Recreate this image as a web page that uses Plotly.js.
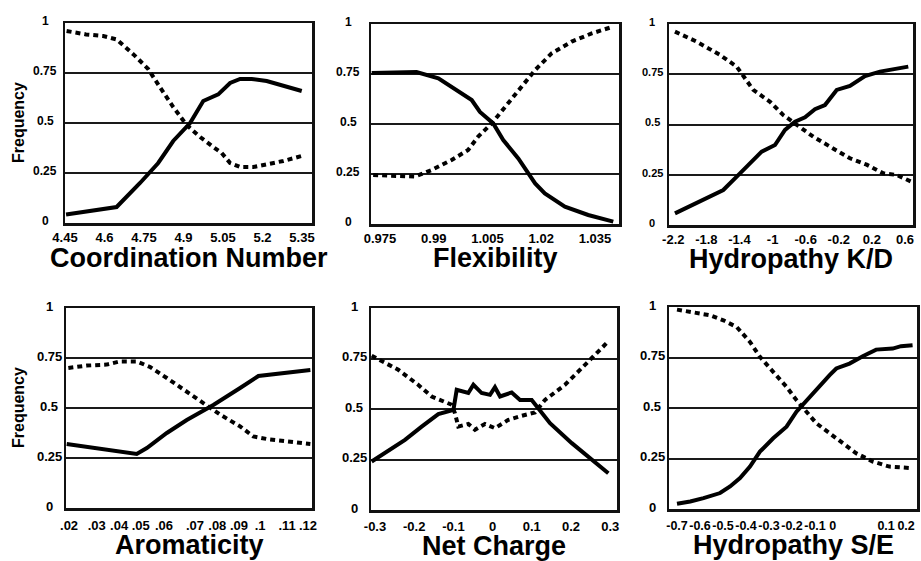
<!DOCTYPE html>
<html>
<head>
<meta charset="utf-8">
<script src="https://cdn.plot.ly/plotly-3.0.1.min.js"></script>
<style>html,body{margin:0;padding:0;background:#fff;}#chart{width:921px;height:561px;}</style>
</head>
<body>
<div id="chart"></div>
<script>
// ---------- DATA ----------
// Coordination Number
const cnSolidX = [4.454, 4.646, 4.735, 4.804, 4.861, 4.925, 4.975, 5.032, 5.077, 5.115, 5.159, 5.216, 5.349];
const cnSolidY = [0.043, 0.08, 0.20, 0.30, 0.41, 0.50, 0.61, 0.643, 0.70, 0.72, 0.72, 0.71, 0.66];
const cnDashX = [4.456, 4.53, 4.595, 4.646, 4.71, 4.766, 4.81, 4.861, 4.912, 4.963, 5.013, 5.045, 5.077, 5.115, 5.165, 5.216, 5.279, 5.349];
const cnDashY = [0.96, 0.943, 0.935, 0.918, 0.843, 0.77, 0.68, 0.58, 0.49, 0.43, 0.38, 0.35, 0.30, 0.28, 0.28, 0.293, 0.31, 0.335];
const cnTickVals = [4.45, 4.6, 4.75, 4.9, 5.05, 5.2, 5.35];
const cnTickText = ['4.45', '4.6', '4.75', '4.9', '5.05', '5.2', '5.35'];

// Flexibility
const flexSolidX = [0.9727, 0.9852, 0.9913, 0.995, 1.0006, 1.0029, 1.0066, 1.0094, 1.0136, 1.0183, 1.021, 1.0266, 1.0331, 1.0401];
const flexSolidY = [0.755, 0.76, 0.728, 0.687, 0.62, 0.56, 0.503, 0.42, 0.328, 0.203, 0.153, 0.087, 0.045, 0.012];
const flexDashX = [0.9731, 0.9848, 0.9894, 0.995, 0.9996, 1.0024, 1.0062, 1.0099, 1.0136, 1.0183, 1.0229, 1.0285, 1.0341, 1.0401];
const flexDashY = [0.245, 0.237, 0.27, 0.32, 0.37, 0.437, 0.503, 0.587, 0.67, 0.77, 0.853, 0.912, 0.953, 0.987];
const flexTickVals = [0.975, 0.99, 1.005, 1.02, 1.035];
const flexTickText = ['0.975', '0.99', '1.005', '1.02', '1.035'];

// Hydropathy K/D
const kdSolidX = [-2.18, -1.596, -1.394, -1.132, -0.971, -0.85, -0.729, -0.608, -0.488, -0.367, -0.225, -0.065, 0.117, 0.298, 0.64];
const kdSolidY = [0.058, 0.174, 0.257, 0.365, 0.398, 0.473, 0.514, 0.536, 0.576, 0.597, 0.672, 0.692, 0.741, 0.763, 0.788];
const kdDashX = [-2.18, -1.917, -1.636, -1.434, -1.233, -1.031, -0.871, -0.709, -0.508, -0.306, -0.065, 0.137, 0.338, 0.499, 0.68];
const kdDashY = [0.962, 0.912, 0.846, 0.788, 0.672, 0.613, 0.547, 0.498, 0.439, 0.39, 0.332, 0.3, 0.257, 0.249, 0.215];
const kdTickVals = [-2.2, -1.8, -1.4, -1, -0.6, -0.2, 0.2, 0.6];
const kdTickText = ['-2.2', '-1.8', '-1.4', '-1', '-0.6', '-0.2', '0.2', '0.6'];

// Aromaticity
const aroSolidX = [0.019, 0.0488, 0.0531, 0.0616, 0.0701, 0.0814, 0.0928, 0.1006, 0.1227];
const aroSolidY = [0.32, 0.27, 0.30, 0.375, 0.44, 0.515, 0.60, 0.66, 0.69];
const aroDashX = [0.0197, 0.0275, 0.036, 0.0417, 0.0488, 0.0545, 0.0616, 0.0701, 0.0786, 0.0843, 0.0928, 0.0984, 0.1041, 0.114, 0.1227];
const aroDashY = [0.70, 0.712, 0.717, 0.733, 0.733, 0.705, 0.65, 0.583, 0.517, 0.467, 0.408, 0.358, 0.345, 0.333, 0.32];
const aroTickVals = [0.02, 0.0318, 0.0413, 0.0505, 0.0604, 0.0736, 0.0831, 0.0923, 0.1013, 0.1128, 0.1217];
const aroTickText = ['.02', '.03', '.04', '.05', '.06', '.07', '.08', '.09', '.1', '.11', '.12'];

// Net Charge
const ncSolidX = [-0.3085, -0.2235, -0.181, -0.1385, -0.1, -0.0916, -0.062, -0.049, -0.028, -0.0066, 0.006, 0.019, 0.0487, 0.07, 0.0997, 0.1464, 0.202, 0.2952];
const ncSolidY = [0.24, 0.347, 0.413, 0.4745, 0.496, 0.595, 0.579, 0.62, 0.579, 0.57, 0.608, 0.562, 0.582, 0.545, 0.545, 0.43, 0.331, 0.182];
const ncDashX = [-0.3085, -0.2406, -0.19, -0.1554, -0.1043, -0.096, -0.0875, -0.062, -0.045, -0.0194, 0.006, 0.04, 0.0742, 0.108, 0.1337, 0.1847, 0.2442, 0.2952];
const ncDashY = [0.764, 0.694, 0.62, 0.562, 0.521, 0.479, 0.413, 0.426, 0.397, 0.426, 0.405, 0.446, 0.466, 0.483, 0.545, 0.62, 0.735, 0.835];
const ncTickVals = [-0.3, -0.2, -0.1, 0, 0.1, 0.2, 0.3];
const ncTickText = ['-0.3', '-0.2', '-0.1', '0', '0.1', '0.2', '0.3'];

// Hydropathy S/E
const seSolidX = [-0.7, -0.6424, -0.5848, -0.5126, -0.4693, -0.426, -0.3827, -0.3394, -0.2818, -0.2238, -0.1805, -0.123, -0.0797, -0.0364, -0.0074, 0.05, 0.1078, 0.1658, 0.2377, 0.274, 0.3243];
const seSolidY = [0.026, 0.0375, 0.054, 0.079, 0.1115, 0.153, 0.21, 0.284, 0.35, 0.4075, 0.4815, 0.5555, 0.613, 0.6626, 0.6956, 0.72, 0.756, 0.789, 0.794, 0.806, 0.811];
const seDashX = [-0.7, -0.628, -0.5558, -0.4983, -0.4403, -0.3827, -0.3394, -0.2818, -0.2238, -0.1805, -0.1372, -0.0939, -0.0364, 0.0212, 0.0792, 0.1511, 0.2234, 0.3243];
const seDashY = [0.987, 0.975, 0.959, 0.934, 0.901, 0.827, 0.753, 0.679, 0.605, 0.539, 0.4815, 0.424, 0.375, 0.326, 0.276, 0.235, 0.21, 0.202];
const seTickVals = [-0.7, -0.6, -0.5, -0.4, -0.3, -0.2, -0.1, -0.023, 0.209, 0.296];
const seTickText = ['-0.7', '-0.6', '-0.5', '-0.4', '-0.3', '-0.2', '-0.1', '0', '0.1', '0.2'];

// Shared y ticks
const yTickVals = [0, 0.25, 0.5, 0.75, 1];
const yTickText = ['0', '0.25', '0.5', '0.75', '1'];
const yTitle = 'Frequency';

// ---------- LAYOUT / STYLE ----------
const W = 921, H = 561;
const FONT = 'Liberation Sans, Arial, Helvetica, sans-serif';

const panels = [
  {sx: cnSolidX, sy: cnSolidY, dx: cnDashX, dy: cnDashY, tv: cnTickVals, tt: cnTickText, title: 'Coordination Number',
   box: [65, 312, 23, 223], range: [4.45, 5.388], yLabX: 45, yLabSize: 12, xLabSize: 13, tickLen: 1, titleShift: -35, freq: true},
  {sx: flexSolidX, sy: flexSolidY, dx: flexDashX, dy: flexDashY, tv: flexTickVals, tt: flexTickText, title: 'Flexibility',
   box: [371, 619, 24, 224], range: [0.9725, 1.0417], yLabX: 348, yLabSize: 12, xLabSize: 13, tickLen: 1, titleShift: -34, freq: false},
  {sx: kdSolidX, sy: kdSolidY, dx: kdDashX, dy: kdDashY, tv: kdTickVals, tt: kdTickText, title: 'Hydropathy K/D',
   box: [669, 913, 24, 225], range: [-2.252, 0.697], yLabX: 652, yLabSize: 11, xLabSize: 13, tickLen: 1, titleShift: -34, freq: false},
  {sx: aroSolidX, sy: aroSolidY, dx: aroDashX, dy: aroDashY, tv: aroTickVals, tt: aroTickText, title: 'Aromaticity',
   box: [66, 312, 308, 508], range: [0.0187, 0.1234], yLabX: 49, yLabSize: 13, xLabSize: 13, tickLen: 4, titleShift: -37, freq: true},
  {sx: ncSolidX, sy: ncSolidY, dx: ncDashX, dy: ncDashY, tv: ncTickVals, tt: ncTickText, title: 'Net Charge',
   box: [371, 617, 308, 510], range: [-0.3102, 0.3173], yLabX: 354, yLabSize: 13, xLabSize: 13, tickLen: 3, titleShift: -36, freq: false},
  {sx: seSolidX, sy: seSolidY, dx: seDashX, dy: seDashY, tv: seTickVals, tt: seTickText, title: 'Hydropathy S/E',
   box: [669, 917, 307, 509], range: [-0.7348, 0.3435], yLabX: 652, yLabSize: 13, xLabSize: 12.5, tickLen: 3, titleShift: -36, freq: false}
];

const traces = [];
const layout = {
  width: W, height: H,
  margin: {l: 0, r: 0, t: 0, b: 0},
  paper_bgcolor: '#fff', plot_bgcolor: '#fff',
  showlegend: false,
  font: {family: FONT, color: '#000'},
  annotations: []
};

panels.forEach((p, i) => {
  const n = i === 0 ? '' : String(i + 1);
  const xa = 'x' + n, ya = 'y' + n;
  traces.push({x: p.sx, y: p.sy, xaxis: xa, yaxis: ya, type: 'scatter', mode: 'lines',
               line: {color: '#000', width: 4}, hoverinfo: 'skip'});
  traces.push({x: p.dx, y: p.dy, xaxis: xa, yaxis: ya, type: 'scatter', mode: 'lines',
               line: {color: '#000', width: 4, dash: '5px,4px'}, hoverinfo: 'skip'});
  const [l, r, t, b] = p.box;
  layout['xaxis' + n] = {
    domain: [l / W, r / W], anchor: ya, range: p.range, type: 'linear',
    tickvals: p.tv, ticktext: p.tt, tickangle: 0,
    ticks: 'outside', ticklen: p.tickLen, tickcolor: 'rgba(0,0,0,0)',
    tickfont: {family: FONT, size: p.xLabSize, weight: 700, color: '#000'},
    showgrid: false, zeroline: false,
    showline: true, mirror: true, linecolor: '#111', linewidth: 2.5, fixedrange: true
  };
  layout['yaxis' + n] = {
    domain: [1 - b / H, 1 - t / H], anchor: xa, range: [0, 1], type: 'linear',
    tickvals: yTickVals, showticklabels: false, ticks: '',
    showgrid: true, gridcolor: '#1a1a1a', gridwidth: 2, zeroline: false,
    showline: true, mirror: true, linecolor: '#111', linewidth: 2.5, fixedrange: true
  };
  // y tick labels (centred like the reference)
  yTickVals.forEach((v, k) => {
    layout.annotations.push({
      xref: 'paper', yref: ya, x: p.yLabX / W, y: v, xanchor: 'center', yanchor: 'middle', yshift: 2,
      text: yTickText[k], showarrow: false,
      font: {family: FONT, size: p.yLabSize, weight: 700, color: '#000'}
    });
  });
  // big axis title under each panel
  layout.annotations.push({
    xref: xa + ' domain', yref: ya + ' domain', x: 0.5, y: 0, xanchor: 'center', yanchor: 'middle', yshift: p.titleShift,
    text: p.title, showarrow: false,
    font: {family: FONT, size: 27, weight: 700, color: '#000'}
  });
  if (p.freq) {
    layout.annotations.push({
      xref: 'paper', yref: ya + ' domain', x: 18 / W, y: 0.5, xanchor: 'center', yanchor: 'middle',
      text: yTitle, textangle: -90, showarrow: false,
      font: {family: FONT, size: 16, weight: 700, color: '#000'}
    });
  }
});

Plotly.newPlot('chart', traces, layout, {displayModeBar: false, staticPlot: true});
</script>
</body>
</html>
